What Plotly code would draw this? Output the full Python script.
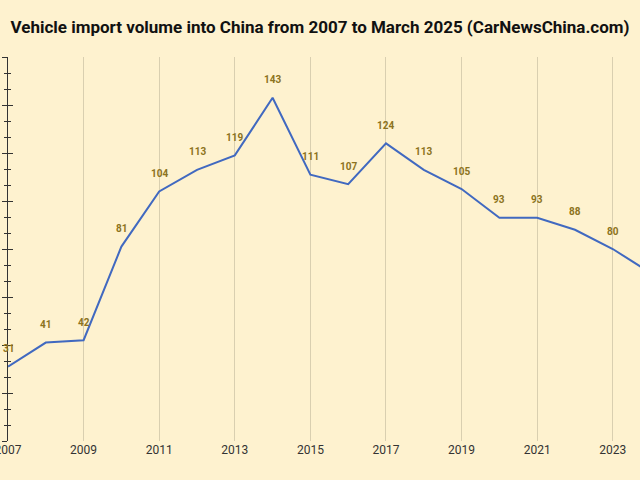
import plotly.graph_objects as go

years = [2007, 2008, 2009, 2010, 2011, 2012, 2013, 2014, 2015, 2016, 2017,
         2018, 2019, 2020, 2021, 2022, 2023, 2024]
volumes = [31, 41, 42, 81, 104, 113, 119, 143, 111, 107, 124,
           113, 105, 93, 93, 88, 80, 70]
tick_years = [2007, 2009, 2011, 2013, 2015, 2017, 2019, 2021, 2023]
tick_text = [str(y) for y in tick_years]

bg = "#FEF2CF"

fig = go.Figure()
fig.add_trace(go.Scatter(
    x=years, y=volumes, mode="lines",
    line=dict(color="#4169C0", width=2),
    hoverinfo="skip",
))
# invisible trace to activate the second y axis (outside ticks)
fig.add_trace(go.Scatter(
    x=years, y=volumes, mode="lines", yaxis="y2",
    line=dict(color="rgba(0,0,0,0)", width=0), hoverinfo="skip",
))

for yr, v in zip(years, volumes):
    if yr > 2023:
        continue
    fig.add_annotation(
        x=yr, y=v, text=f"<b>{v}</b>", showarrow=False,
        yshift=18, font=dict(family="Roboto", size=10, color="#8C7320"),
    )

fig.update_layout(
    width=640, height=480,
    paper_bgcolor=bg, plot_bgcolor=bg,
    margin=dict(l=8, r=0, t=57, b=39, autoexpand=False),
    showlegend=False,
    title=dict(
        text="<b>Vehicle import volume into China from 2007 to March 2025 (CarNewsChina.com)</b>",
        x=0.5, xanchor="center", y=0.944, yanchor="middle",
        font=dict(family="Roboto", size=17, color="#111111"),
    ),
)

fig.update_xaxes(
    range=[2007, 2023.72],
    tickvals=tick_years, ticktext=tick_text,
    showgrid=True, gridcolor="#D9CFB0", gridwidth=1,
    zeroline=False, showline=False, ticks="",
    ticklabeloverflow="allow", automargin=False,
    tickfont=dict(family="Roboto", size=12, color="#333333"),
)
tick_common = dict(
    range=[0, 160], dtick=20, showticklabels=False,
    showgrid=False, zeroline=False, automargin=False,
    tickcolor="#333333", ticklen=5,
)
fig.update_layout(
    yaxis=dict(
        **tick_common,
        showline=True, linecolor="#333333", linewidth=1,
        ticks="inside",
        minor=dict(dtick=20/3, ticks="inside", ticklen=3, tickcolor="#333333"),
    ),
    yaxis2=dict(
        **tick_common,
        overlaying="y", side="left", showline=False,
        ticks="outside",
        minor=dict(dtick=20/3, ticks="outside", ticklen=3, tickcolor="#333333"),
    ),
)

fig.write_html("out.html")
